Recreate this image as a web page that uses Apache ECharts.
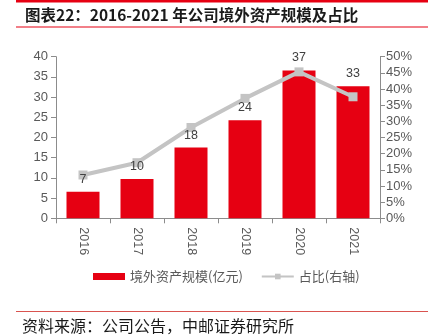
<!DOCTYPE html>
<html>
<head>
<meta charset="utf-8">
<script src="https://cdn.jsdelivr.net/npm/echarts@6/dist/echarts.min.js"></script>
<style>
  html, body { margin: 0; padding: 0; background: #fff; }
  #chart { width: 428px; height: 335px; }
</style>
</head>
<body>
<div id="chart"></div>
<script>
// Years on the category axis
const years = ['2016', '2017', '2018', '2019', '2020', '2021'];
// Overseas assets, 100 million yuan (bars, left axis)
const overseasAssets = [6.6, 9.7, 17.5, 24.3, 36.6, 32.7];
// Share of total assets, % (line, right axis)
const overseasShare = [13.4, 17.2, 28.1, 37.1, 45.3, 37.6];

const barName = '境外资产规模(亿元)';
const lineName = '占比(右轴)';
const titleText = '图表22：2016-2021 年公司境外资产规模及占比';
const sourceText = '资料来源：公司公告，中邮证券研究所';

const RED = '#E60012';
const GREY = '#C4C4C4';
const TEXT = '#595959';
const CJK = '"Noto Sans CJK SC", sans-serif';
const NUM = '"Liberation Sans", Arial, sans-serif';
const BAR_W = 33;

const chart = echarts.init(document.getElementById('chart'), null, { renderer: 'canvas' });

chart.setOption({
  animation: false,
  textStyle: { fontFamily: NUM },
  title: {
    text: titleText,
    left: 20,
    top: 2,
    textStyle: { fontSize: 15.5, fontWeight: 'bold', color: '#1a1a1a', fontFamily: CJK }
  },
  graphic: [
    { type: 'rect', shape: { x: 16, y: 0, width: 412, height: 2.5 }, style: { fill: RED } },
    { type: 'rect', shape: { x: 16, y: 26.5, width: 412, height: 1 }, style: { fill: RED } },
    { type: 'rect', shape: { x: 16, y: 311, width: 412, height: 1 }, style: { fill: '#D9534F' } },
    {
      type: 'text', left: 22, top: 318,
      style: { text: sourceText, fontSize: 16, fill: '#1a1a1a', fontFamily: CJK }
    }
  ],
  legend: {
    top: 270,
    left: 93,
    padding: 0,
    itemGap: 18,
    itemWidth: 32,
    itemHeight: 7,
    textStyle: { fontSize: 13, color: TEXT, fontFamily: CJK },
    data: [
      { name: barName, icon: 'rect' },
      { name: lineName }
    ]
  },
  grid: { left: 56, right: 48, top: 56.7, bottom: 116.7 },
  xAxis: {
    type: 'category',
    data: years,
    axisLine: { lineStyle: { color: '#8c8c8c' } },
    axisTick: { show: true, length: 5, lineStyle: { color: '#8c8c8c' } },
    axisLabel: { rotate: -90, color: TEXT, fontSize: 12.5, margin: 9 }
  },
  yAxis: [
    {
      type: 'value', min: 0, max: 40, interval: 5,
      splitLine: { show: false },
      axisLine: { show: true, lineStyle: { color: '#8c8c8c' } },
      axisTick: { show: true, length: 5, lineStyle: { color: '#8c8c8c' } },
      axisLabel: { color: TEXT, fontSize: 13, margin: 8 }
    },
    {
      type: 'value', min: 0, max: 50, interval: 5,
      splitLine: { show: false },
      axisLine: { show: true, lineStyle: { color: '#8c8c8c' } },
      axisTick: { show: true, length: 5, lineStyle: { color: '#8c8c8c' } },
      axisLabel: { color: TEXT, fontSize: 13, margin: 6, formatter: '{value}%' }
    }
  ],
  series: [
    {
      name: barName,
      type: 'bar',
      data: overseasAssets,
      barWidth: BAR_W,
      itemStyle: { color: RED },
      z: 2
    },
    {
      name: lineName,
      type: 'line',
      yAxisIndex: 1,
      data: overseasShare,
      symbol: 'rect',
      symbolSize: 9,
      lineStyle: { color: GREY, width: 4 },
      itemStyle: { color: GREY },
      z: 3
    },
    {
      // value labels for the bars, kept above the line
      name: 'barLabels',
      type: 'bar',
      data: overseasAssets,
      barWidth: BAR_W,
      barGap: '-100%',
      itemStyle: { color: 'rgba(0,0,0,0)' },
      label: {
        show: true, position: 'top', distance: 6,
        color: '#404040', fontSize: 12.5,
        formatter: p => Math.round(p.value)
      },
      z: 5
    }
  ]
});
</script>
</body>
</html>
